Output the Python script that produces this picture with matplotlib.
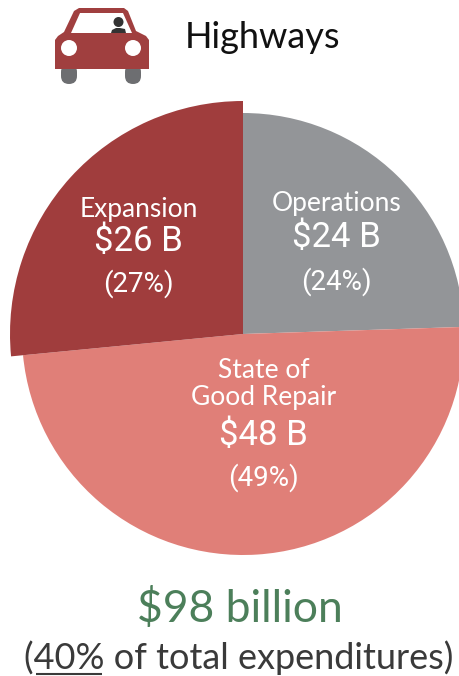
import matplotlib
matplotlib.use("Agg")
import matplotlib.pyplot as plt
from matplotlib.patches import Polygon, Circle, FancyBboxPatch

# values in billions, clockwise from 12 o'clock
categories = ["Operations", "State of\nGood Repair", "Expansion"]
amounts = [24, 48, 26]
amount_labels = ["$24 B", "$48 B", "$26 B"]
share_labels = ["(24%)", "(49%)", "(27%)"]
colors = ["#939598", "#E07F78", "#A03D3D"]

W, H = 459, 676
DARK_RED = "#A03F3F"

plt.rcParams['font.family'] = ['Lato', 'DejaVu Sans']

fig = plt.figure(figsize=(W / 100, H / 100), dpi=100)
ax = fig.add_axes([0, 0, 1, 1])


def py(y):
    # picture y (from the top) to axes y
    return H - y


wedges, _ = ax.pie(amounts, colors=colors, startangle=90, counterclock=False,
                   center=(243, py(334)), radius=221, frame=False)
# the expansion slice sticks out a bit
wedges[2].set_radius(233)
ax.set_xlim(0, W)
ax.set_ylim(0, H)
ax.set_aspect("equal")
ax.axis("off")

# slice labels
name_pos = [(337, 203), (264, 384), (139, 209)]
amount_pos = [(336, 238), (263, 436), (138, 242)]
share_pos = [(336, 282), (263, 478), (138, 284)]
for i in range(3):
    ax.text(name_pos[i][0], py(name_pos[i][1]), categories[i], color="white", fontsize=19,
            ha="center", va="center", linespacing=1.1)
    ax.text(amount_pos[i][0], py(amount_pos[i][1]), amount_labels[i], color="white", fontsize=25,
            family="Roboto", ha="center", va="center")
    ax.text(share_pos[i][0], py(share_pos[i][1]), share_labels[i], color="white", fontsize=20,
            family="Roboto", ha="center", va="center")

# header
ax.text(185, py(38), "Highways", color="#111111", fontsize=26, ha="left", va="center")

# car icon
for cx in (69, 133):
    ax.add_patch(FancyBboxPatch((cx - 8, py(84)), 16, 20, boxstyle="round,pad=0,rounding_size=8",
                                fc="#6D6E71", ec="none"))
ax.add_patch(Polygon([(55, py(69)), (149, py(69)), (149, py(40)), (146, py(36)), (136, py(31)),
                      (128, py(11)), (124, py(8)), (79, py(8)), (74, py(11)), (64, py(32)),
                      (58, py(36)), (55, py(40))], fc=DARK_RED, ec="none"))
ax.add_patch(Polygon([(71, py(33)), (132, py(33)), (123, py(13)), (80, py(13))], fc="white", ec="none"))
ax.add_patch(Circle((118.5, py(22)), 5, fc="#333333", ec="none"))
ax.add_patch(Polygon([(111, py(33)), (126, py(33)), (125, py(29)), (120, py(28)), (116, py(28)), (112, py(30))],
                     fc="#333333", ec="none"))
for cx in (69, 133):
    ax.add_patch(Circle((cx, py(48)), 8, fc="white", ec="none"))

# totals
ax.text(240, py(609), "$98 billion", color="#4C7F5A", fontsize=32, ha="center", va="center")
ax.text(239, py(669), "(40% of total expenditures)", color="#3A3A3A", fontsize=26,
        ha="center", va="baseline")
ax.plot([36, 102], [py(674), py(674)], color="#3A3A3A", lw=1.5, solid_capstyle="butt")

fig.savefig("out.png", dpi=100)
